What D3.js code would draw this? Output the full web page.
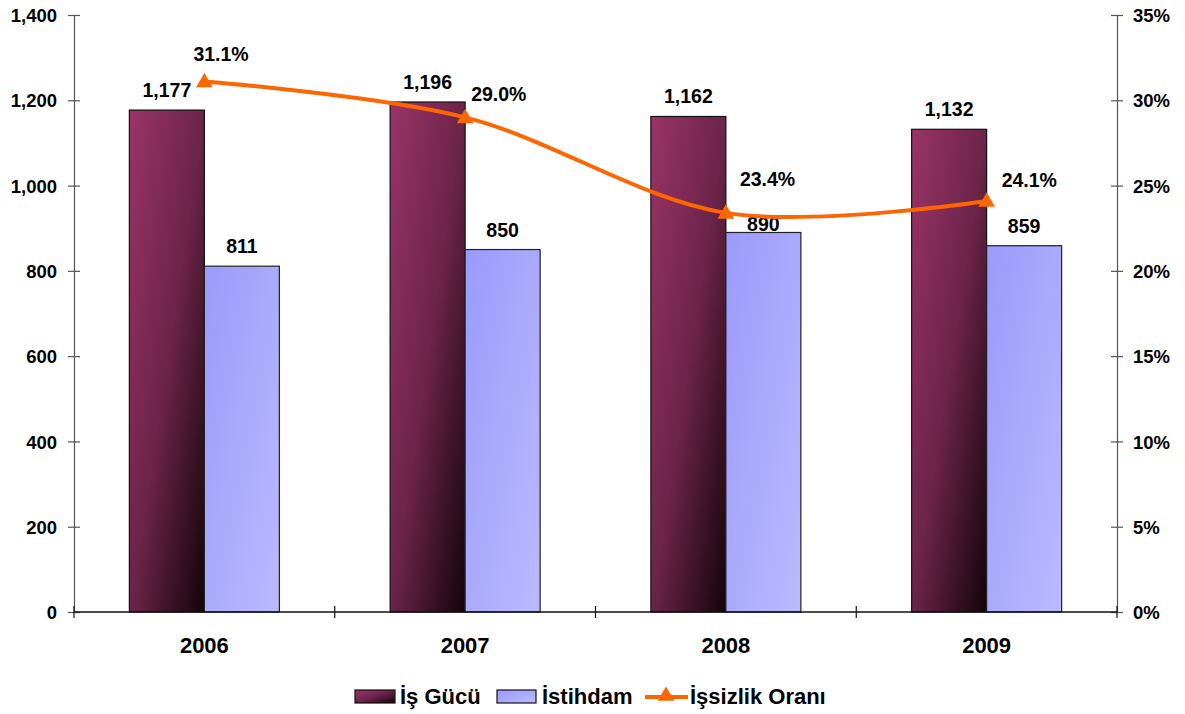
<!DOCTYPE html>
<html><head><meta charset="utf-8">
<script src="https://cdn.jsdelivr.net/npm/d3@7"></script>
<style>body{margin:0;background:#fff}svg{display:block;font-family:"Liberation Sans",Arial,sans-serif;font-weight:bold}</style>
</head><body><svg id="c" width="1185" height="714"></svg>
<script>
const categories = ["2006","2007","2008","2009"];
const isGucu = [1177,1196,1162,1132];
const istihdam = [811,850,890,859];
const issizlik = [31.1,29.0,23.4,24.1];
const leftTicks = [0,200,400,600,800,1000,1200,1400];
const rightTicks = [0,5,10,15,20,25,30,35];
const seriesNames = ["İş Gücü","İstihdam","İşsizlik Oranı"];
const rateLabelOffsets = [[-11,-21],[6,-16],[14,-27],[15,-14]];
const istihdamLabelGap = [13,13,1,13];

const svg = d3.select("#c");
const L=74, R=1117, T=15, B=612;
const x = d3.scaleBand().domain(categories).range([L,R]);
const yL = d3.scaleLinear().domain([0,1400]).range([B,T]);
const yR = d3.scaleLinear().domain([0,35]).range([B,T]);
const barW = 75;

const defs = svg.append("defs");
const g1 = defs.append("linearGradient").attr("id","gA").attr("x1",0).attr("y1",0).attr("x2",1).attr("y2",1);
g1.append("stop").attr("offset",0).attr("stop-color","#9b3467");
g1.append("stop").attr("offset",0.5).attr("stop-color","#6c2449");
g1.append("stop").attr("offset",1).attr("stop-color","#120409");
const g2 = defs.append("linearGradient").attr("id","gB").attr("x1",0).attr("y1",0).attr("x2",1).attr("y2",1);
g2.append("stop").attr("offset",0).attr("stop-color","#9a9afb");
g2.append("stop").attr("offset",1).attr("stop-color","#babaff");

// bars
const cx = c => x(c) + x.bandwidth()/2;
svg.append("g").selectAll("rect").data(categories).join("rect")
  .attr("x",(d)=>cx(d)-barW).attr("y",(d,i)=>yL(isGucu[i]))
  .attr("width",barW).attr("height",(d,i)=>B-yL(isGucu[i]))
  .attr("fill","url(#gA)").attr("stroke","#111").attr("stroke-width",1.2);
svg.append("g").selectAll("rect").data(categories).join("rect")
  .attr("x",(d)=>cx(d)).attr("y",(d,i)=>yL(istihdam[i]))
  .attr("width",barW).attr("height",(d,i)=>B-yL(istihdam[i]))
  .attr("fill","url(#gB)").attr("stroke","#222").attr("stroke-width",1.2);

// axes
const axL = svg.append("g").attr("transform",`translate(${L},0)`)
  .call(d3.axisLeft(yL).tickValues(leftTicks).tickFormat(d3.format(",")).tickSizeInner(6).tickSizeOuter(0));
axL.selectAll(".tick line").attr("x1",6).attr("x2",-6);
const axR = svg.append("g").attr("transform",`translate(${R},0)`)
  .call(d3.axisRight(yR).tickValues(rightTicks).tickFormat(d=>d+"%").tickSizeInner(6).tickSizeOuter(0));
axR.selectAll(".tick line").attr("x1",-6).attr("x2",6);
[axL,axR].forEach(a=>{
  a.select(".domain").attr("stroke","#555").attr("stroke-width",1.2);
  a.selectAll(".tick line").attr("stroke","#555").attr("stroke-width",1.2);
  a.selectAll("text").attr("font-size",18.5).attr("font-weight","bold").attr("fill","#000").attr("font-family","Liberation Sans, Arial, sans-serif");
});
axL.selectAll("text").attr("x",-17).attr("dy","0.36em");
axR.selectAll("text").attr("x",16).attr("dy","0.36em");

// x axis
const xa = svg.append("g");
xa.append("line").attr("x1",L).attr("x2",R).attr("y1",B).attr("y2",B).attr("stroke","#111").attr("stroke-width",1.3);
const bounds = d3.range(categories.length+1).map(i=> L + i*x.step());
xa.selectAll(".tk").data(bounds).join("line").attr("class","tk")
  .attr("x1",d=>d).attr("x2",d=>d).attr("y1",B-6).attr("y2",B+6).attr("stroke","#111").attr("stroke-width",1.2);
xa.selectAll("text").data(categories).join("text")
  .attr("x",d=>cx(d)).attr("y",653).attr("text-anchor","middle").attr("font-size",22).text(d=>d);

// bar labels
svg.append("g").selectAll("text").data(categories).join("text")
  .attr("x",d=>cx(d)-barW/2).attr("y",(d,i)=>yL(isGucu[i])-13).attr("text-anchor","middle")
  .attr("font-size",19.5).text((d,i)=>d3.format(",")(isGucu[i]));
svg.append("g").selectAll("text").data(categories).join("text")
  .attr("x",d=>cx(d)+barW/2).attr("y",(d,i)=>yL(istihdam[i])-istihdamLabelGap[i]).attr("text-anchor","middle")
  .attr("font-size",19.5).text((d,i)=>d3.format(",")(istihdam[i]));

// line
const pts = categories.map((c,i)=>[cx(c), yR(issizlik[i])]);
svg.append("path").attr("d", d3.line().curve(d3.curveCatmullRom.alpha(0))(pts))
  .attr("fill","none").attr("stroke","#ff6600").attr("stroke-width",4);
const tri = d3.symbol().type(d3.symbolTriangle).size(120);
svg.append("g").selectAll("path").data(pts).join("path")
  .attr("transform",d=>`translate(${d[0]},${d[1]+1})`).attr("d",tri).attr("fill","#ff6600");
svg.append("g").selectAll("text").data(pts).join("text")
  .attr("x",(d,i)=>d[0]+rateLabelOffsets[i][0]).attr("y",(d,i)=>d[1]+rateLabelOffsets[i][1])
  .attr("font-size",19.5).text((d,i)=>issizlik[i].toFixed(1)+"%");

// legend
const lg = svg.append("g");
const ly = 697;
lg.append("rect").attr("x",355).attr("y",ly-7).attr("width",40).attr("height",13).attr("fill","url(#gA)").attr("stroke","#111").attr("stroke-width",1.2);
lg.append("text").attr("x",400).attr("y",ly+7).attr("font-size",22).text(seriesNames[0]);
lg.append("rect").attr("x",497).attr("y",ly-7).attr("width",39).attr("height",13).attr("fill","url(#gB)").attr("stroke","#111").attr("stroke-width",1.2);
lg.append("text").attr("x",542).attr("y",ly+7).attr("font-size",22).text(seriesNames[1]);
lg.append("line").attr("x1",645).attr("x2",688).attr("y1",ly).attr("y2",ly).attr("stroke","#ff6600").attr("stroke-width",4);
lg.append("path").attr("transform",`translate(666,${ly-1})`).attr("d",tri).attr("fill","#ff6600");
lg.append("text").attr("x",690).attr("y",ly+7).attr("font-size",22).text(seriesNames[2]);
</script></body></html>
